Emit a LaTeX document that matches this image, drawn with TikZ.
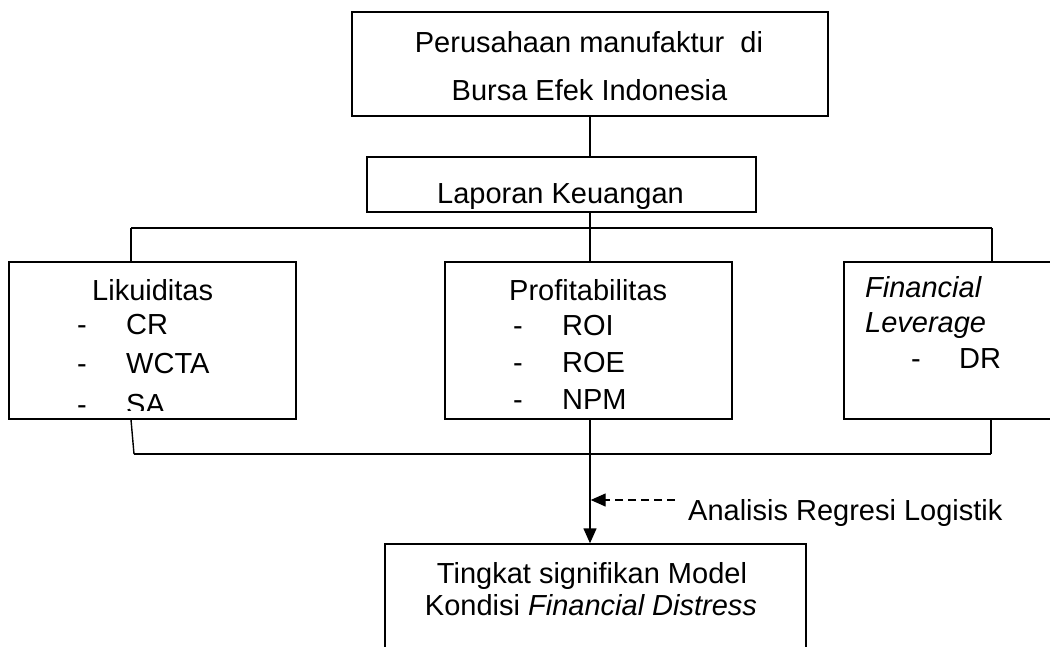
\documentclass[tikz,border=0pt]{standalone}
\usepackage{fontspec}
\setmainfont{Liberation Sans}
\usetikzlibrary{arrows.meta}
\tikzset{
  box/.style={draw, line width=1.4pt, rectangle, inner sep=0pt},
  txt/.style={inner sep=0pt, font=\fontsize{29}{35}\selectfont, anchor=base west},
  ctxt/.style={inner sep=0pt, font=\fontsize{29}{35}\selectfont, anchor=base},
  ln/.style={line width=1.4pt},
  tipd/.style={-{Triangle[length=15pt,width=13pt]}},
  dashln/.style={line width=1.3pt, dash pattern=on 8pt off 5pt}
}
\begin{document}
\begin{tikzpicture}[x=1pt,y=-1pt]
\useasboundingbox[fill=white] (0,0) rectangle (1050,646);

% boxes
\node[box, minimum width=476pt, minimum height=104pt] (top) at (590,64) {};
\node[box, minimum width=389pt, minimum height=55pt] (lap) at (561.5,184.5) {};
\node[box, minimum width=287pt, minimum height=157pt] (lik) at (152.5,340.5) {};
\node[box, minimum width=287pt, minimum height=157pt] (prof) at (588.5,340.5) {};
\node[box, minimum width=226pt, minimum height=157pt] (fl) at (957,340.5) {};
\node[box, minimum width=421pt, minimum height=136pt] (res) at (595.5,612) {};

% texts
\node[ctxt] (t1) at (589,52) {Perusahaan manufaktur\ \ di};
\node[ctxt] (t2) at (589.5,100) {Bursa Efek Indonesia};
\node[ctxt] (t3) at (560.5,203) {Laporan Keuangan};

\node[txt] (l0) at (92,300) {Likuiditas};
\node[txt] (l1d) at (77,334) {-};
\node[txt] (l1) at (126,334) {CR};
\node[txt] (l2d) at (77,373) {-};
\node[txt] (l2) at (126,373) {WCTA};
\begin{scope}
  \clip (0,0) rectangle (1050,410);
  \node[txt] (l3d) at (77,414) {-};
  \node[txt] (l3) at (126,414) {SA};
\end{scope}

\node[txt] (p0) at (509,300) {Profitabilitas};
\node[txt] (p1d) at (513,335) {-};
\node[txt] (p1) at (562,335) {ROI};
\node[txt] (p2d) at (513,372) {-};
\node[txt] (p2) at (562,372) {ROE};
\node[txt] (p3d) at (513,409) {-};
\node[txt] (p3) at (562,409) {NPM};

\node[txt] (f0) at (865,297) {\itshape Financial};
\node[txt] (f1) at (865,332) {\itshape Leverage};
\node[txt] (f2d) at (911,368) {-};
\node[txt] (f2) at (959,368) {DR};

\node[ctxt] (r1) at (592,583) {Tingkat signifikan Model};
\node[ctxt] (r2) at (591,615) {Kondisi \textit{Financial Distress}};

\node[txt] (an) at (688,520) {Analisis Regresi Logistik};

% connectors
\coordinate (busL) at (131,228);
\coordinate (busR) at (992,228);
\coordinate (botL) at (134,454);
\coordinate (botR) at (991,454);
\coordinate (ds) at (675,500);

\draw[ln] (top.south) -- (top.south |- lap.north);
\draw[ln] (top.south |- lap.south) -- (top.south |- busL);
\draw[ln] (busL) -- (busR);
\draw[ln] (busL) -- (busL |- lik.north);
\draw[ln] (top.south |- busL) -- (top.south |- prof.north);
\draw[ln] (busR) -- (busR |- fl.north);
\draw[ln] (busL |- lik.south) -- (botL);
\draw[ln] (botL) -- (botR);
\draw[ln] (botR) -- (botR |- fl.south);
\draw[ln, tipd] (top.south |- prof.south) -- (top.south |- res.north);
\draw[dashln, tipd] (ds) -- ([xshift=0.7pt]top.south |- ds);
\end{tikzpicture}
\end{document}
